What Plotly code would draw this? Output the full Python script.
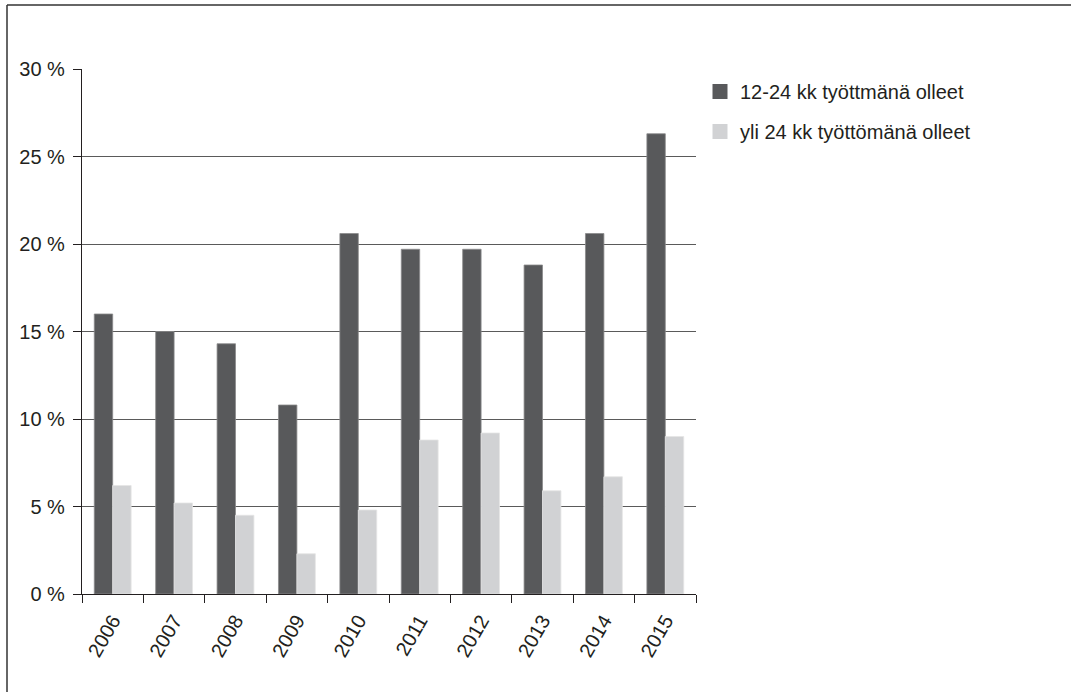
import plotly.graph_objects as go

# Years and shares of unemployed (%) by unemployment duration
years = ["2006", "2007", "2008", "2009", "2010", "2011", "2012", "2013", "2014", "2015"]
dur_12_24 = [16.0, 15.0, 14.3, 10.8, 20.6, 19.7, 19.7, 18.8, 20.6, 26.3]
dur_over_24 = [6.2, 5.2, 4.5, 2.3, 4.8, 8.8, 9.2, 5.9, 6.7, 9.0]

series_names = ["12-24 kk työttmänä olleet", "yli 24 kk työttömänä olleet"]
dark = "#58595b"
light = "#d1d2d4"

FONT = "Liberation Sans, Arial, sans-serif"
W, H = 1071, 692
L, R, T, B = 82, 375, 69, 98
pw, ph = W - L - R, H - T - B

fig = go.Figure()
fig.add_trace(go.Bar(x=years, y=dur_12_24, name=series_names[0], marker=dict(color=dark, line=dict(color="#8a8a8c", width=0.8)), showlegend=False))
fig.add_trace(go.Bar(x=years, y=dur_over_24, name=series_names[1], marker=dict(color=light, line=dict(color="#e4e4e5", width=0.8)), showlegend=False))

# legend entries with larger square swatches
for i, (nm, c) in enumerate(zip(series_names, [dark, light])):
    fig.add_trace(go.Scatter(x=[None], y=[None], mode="markers", name=nm, legendgroup=f"g{i}",
                             marker=dict(symbol="square", size=15, color=c)))


def px_x(x):
    return (x - L) / pw


def px_y(y):
    return (H - B - y) / ph


# outer frame: left and top edges
fig.add_shape(type="line", xref="paper", yref="paper", x0=px_x(7), x1=px_x(7), y0=px_y(5), y1=px_y(H + 2),
              line=dict(color="#333", width=1.5))
fig.add_shape(type="line", xref="paper", yref="paper", x0=px_x(7), x1=px_x(W + 2), y0=px_y(5), y1=px_y(5),
              line=dict(color="#333", width=1.5))

fig.update_layout(
    width=W, height=H,
    margin=dict(l=L, r=R, t=T, b=B),
    paper_bgcolor="white", plot_bgcolor="white",
    barmode="group", bargap=0.4, bargroupgap=0,
    font=dict(family=FONT, size=20, color="#231f20"),
    legend=dict(x=px_x(700), y=px_y(72), xanchor="left", yanchor="top",
                font=dict(size=20), tracegroupgap=11, itemsizing="trace",
                bgcolor="rgba(0,0,0,0)"),
    xaxis=dict(type="category", showline=True, linecolor="#231f20", linewidth=1.2,
               ticks="outside", tickson="boundaries", ticklen=8, tickcolor="#231f20",
               tickangle=-60, showgrid=False, tickfont=dict(size=20), ticklabelstandoff=6),
    yaxis=dict(range=[0, 30], tickvals=[0, 5, 10, 15, 20, 25, 30],
               ticktext=["0 %", "5 %", "10 %", "15 %", "20 %", "25 %", "30 %"],
               showline=True, linecolor="#231f20", linewidth=1.2,
               ticks="outside", ticklen=8, tickcolor="#231f20",
               showgrid=True, gridcolor="#5a5a5a", gridwidth=1,
               zeroline=False, tickfont=dict(size=20), ticklabelstandoff=4),
)

fig.write_html("out.html")
